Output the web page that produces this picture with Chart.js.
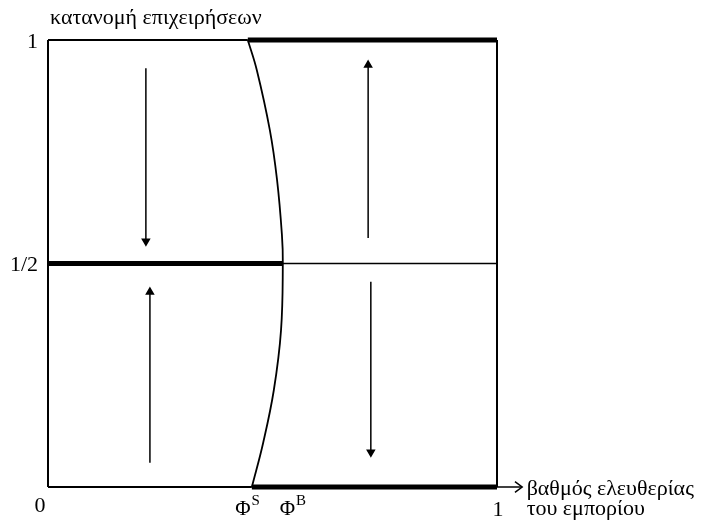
<!DOCTYPE html>
<html>
<head>
<meta charset="utf-8">
<script src="https://cdn.jsdelivr.net/npm/chart.js@4"></script>
<style>
  html, body { margin: 0; padding: 0; background: #fff; }
  #wrap { width: 707px; height: 528px; }
</style>
</head>
<body>
<div id="wrap"><canvas id="chart" width="707" height="528"></canvas></div>
<script>
// frame and the three horizontal lines
const leftEdgeX = [0, 0];
const rightEdgeX = [1, 1];
const edgeY = [0, 1];
const topThinX = [0, 0.445];
const topThickX = [0.445, 1];
const topY = [1, 1];
const halfThickX = [0, 0.523];
const halfThinX = [0.523, 1];
const halfY = [0.5, 0.5];
const bottomThinX = [0, 0.454];
const bottomThickX = [0.454, 1];
const bottomY = [0, 0];

// curve between phi S and phi B
const curveX = [0.445, 0.465, 0.494, 0.510, 0.521, 0.523, 0.519, 0.503, 0.479, 0.454];
const curveY = [1, 0.933, 0.799, 0.688, 0.564, 0.5, 0.351, 0.217, 0.098, 0];

// flow arrows (x position, start y, end y)
const arrowX = [0.218, 0.227, 0.713, 0.719];
const arrowFrom = [0.937, 0.054, 0.557, 0.459];
const arrowTo = [0.55, 0.436, 0.944, 0.078];

// x axis arrow
const axisArrowX = [1, 1.056];
const axisArrowY = [0, 0];
const arrowHeadX = [1.040, 1.056, 1.040];
const arrowHeadY = [0.012, 0, -0.012];

// tick labels
const yTickValues = [1, 0.5];
const yTickLabels = ["1", "1/2"];
const xTickValues = [0, 0.449, 0.548, 1];
const xTickLabels = ["0", "Φ", "Φ", "1"];
const xTickSup = ["", "S", "B", ""];

const yTitle = "κατανομή επιχειρήσεων";
const xTitle = ["βαθμός ελευθερίας", "του εμπορίου"];

function pts(xs, ys){
  return xs.map(function(x, i){ return {x: x, y: ys[i]}; });
}

function line(xs, ys, width){
  return {
    data: pts(xs, ys),
    showLine: true,
    borderColor: "#000",
    backgroundColor: "#000",
    borderWidth: width,
    pointRadius: 0,
    tension: 0,
    clip: false
  };
}

let datasets = [
  line(leftEdgeX, edgeY, 2),
  line(rightEdgeX, edgeY, 2),
  line(topThinX, topY, 2),
  line(topThickX, topY, 5),
  line(halfThickX, halfY, 5),
  line(halfThinX, halfY, 1.5),
  line(bottomThinX, bottomY, 2),
  line(bottomThickX, bottomY, 5),
  line(axisArrowX, axisArrowY, 1.5),
  line(arrowHeadX, arrowHeadY, 1.5)
];

let curve = line(curveX, curveY, 1.8);
curve.tension = 0.4;
datasets.push(curve);

// each flow arrow: a line with a triangle on its end point
for(let i = 0; i < arrowX.length; i++){
  let a = line([arrowX[i], arrowX[i]], [arrowFrom[i], arrowTo[i]], 1.5);
  let down = arrowTo[i] < arrowFrom[i];
  a.pointStyle = "triangle";
  a.pointRadius = [0, 4];
  a.pointRotation = [0, down ? 180 : 0];
  datasets.push(a);
}

// draws the tick labels and titles
const labelPlugin = {
  id: "labels",
  afterDraw: function(chart){
    let ctx = chart.ctx;
    let xs = chart.scales.x;
    let ys = chart.scales.y;
    let left = xs.getPixelForValue(0);
    let bottom = ys.getPixelForValue(0);
    ctx.save();
    ctx.fillStyle = "#000";
    ctx.textBaseline = "middle";

    ctx.font = "22px 'Liberation Serif'";
    ctx.textAlign = "right";
    for(let i = 0; i < yTickValues.length; i++){
      ctx.fillText(yTickLabels[i], left - 10, ys.getPixelForValue(yTickValues[i]) + 2);
    }

    for(let i = 0; i < xTickValues.length; i++){
      let px = xs.getPixelForValue(xTickValues[i]);
      if(xTickSup[i]){
        ctx.font = "21px 'Liberation Serif'";
        ctx.textAlign = "right";
        ctx.fillText(xTickLabels[i], px + 1, bottom + 22);
        ctx.font = "15px 'Liberation Serif'";
        ctx.textAlign = "left";
        ctx.fillText(xTickSup[i], px + 2, bottom + 14);
      } else {
        ctx.font = "22px 'Liberation Serif'";
        ctx.textAlign = "center";
        let off = i === 0 ? -8 : 1;
        ctx.fillText(xTickLabels[i], px + off, bottom + (i === 0 ? 19 : 23));
      }
    }

    ctx.font = "22px 'Liberation Serif'";
    ctx.textAlign = "left";
    ctx.fillText(yTitle, left + 2, 18);
    let tx = xs.getPixelForValue(1.066);
    ctx.fillText(xTitle[0], tx, bottom + 2);
    ctx.fillText(xTitle[1], tx, bottom + 22);
    ctx.restore();
  }
};

let chart = new Chart(document.getElementById("chart"), {
  type: "scatter",
  data: { datasets: datasets },
  options: {
    responsive: false,
    animation: false,
    events: [],
    layout: { padding: { left: 48, right: 210, top: 40, bottom: 41 } },
    plugins: { legend: { display: false }, tooltip: { enabled: false } },
    scales: {
      x: { type: "linear", min: 0, max: 1, display: false },
      y: { type: "linear", min: 0, max: 1, display: false }
    }
  },
  plugins: [labelPlugin]
});
</script>
</body>
</html>
